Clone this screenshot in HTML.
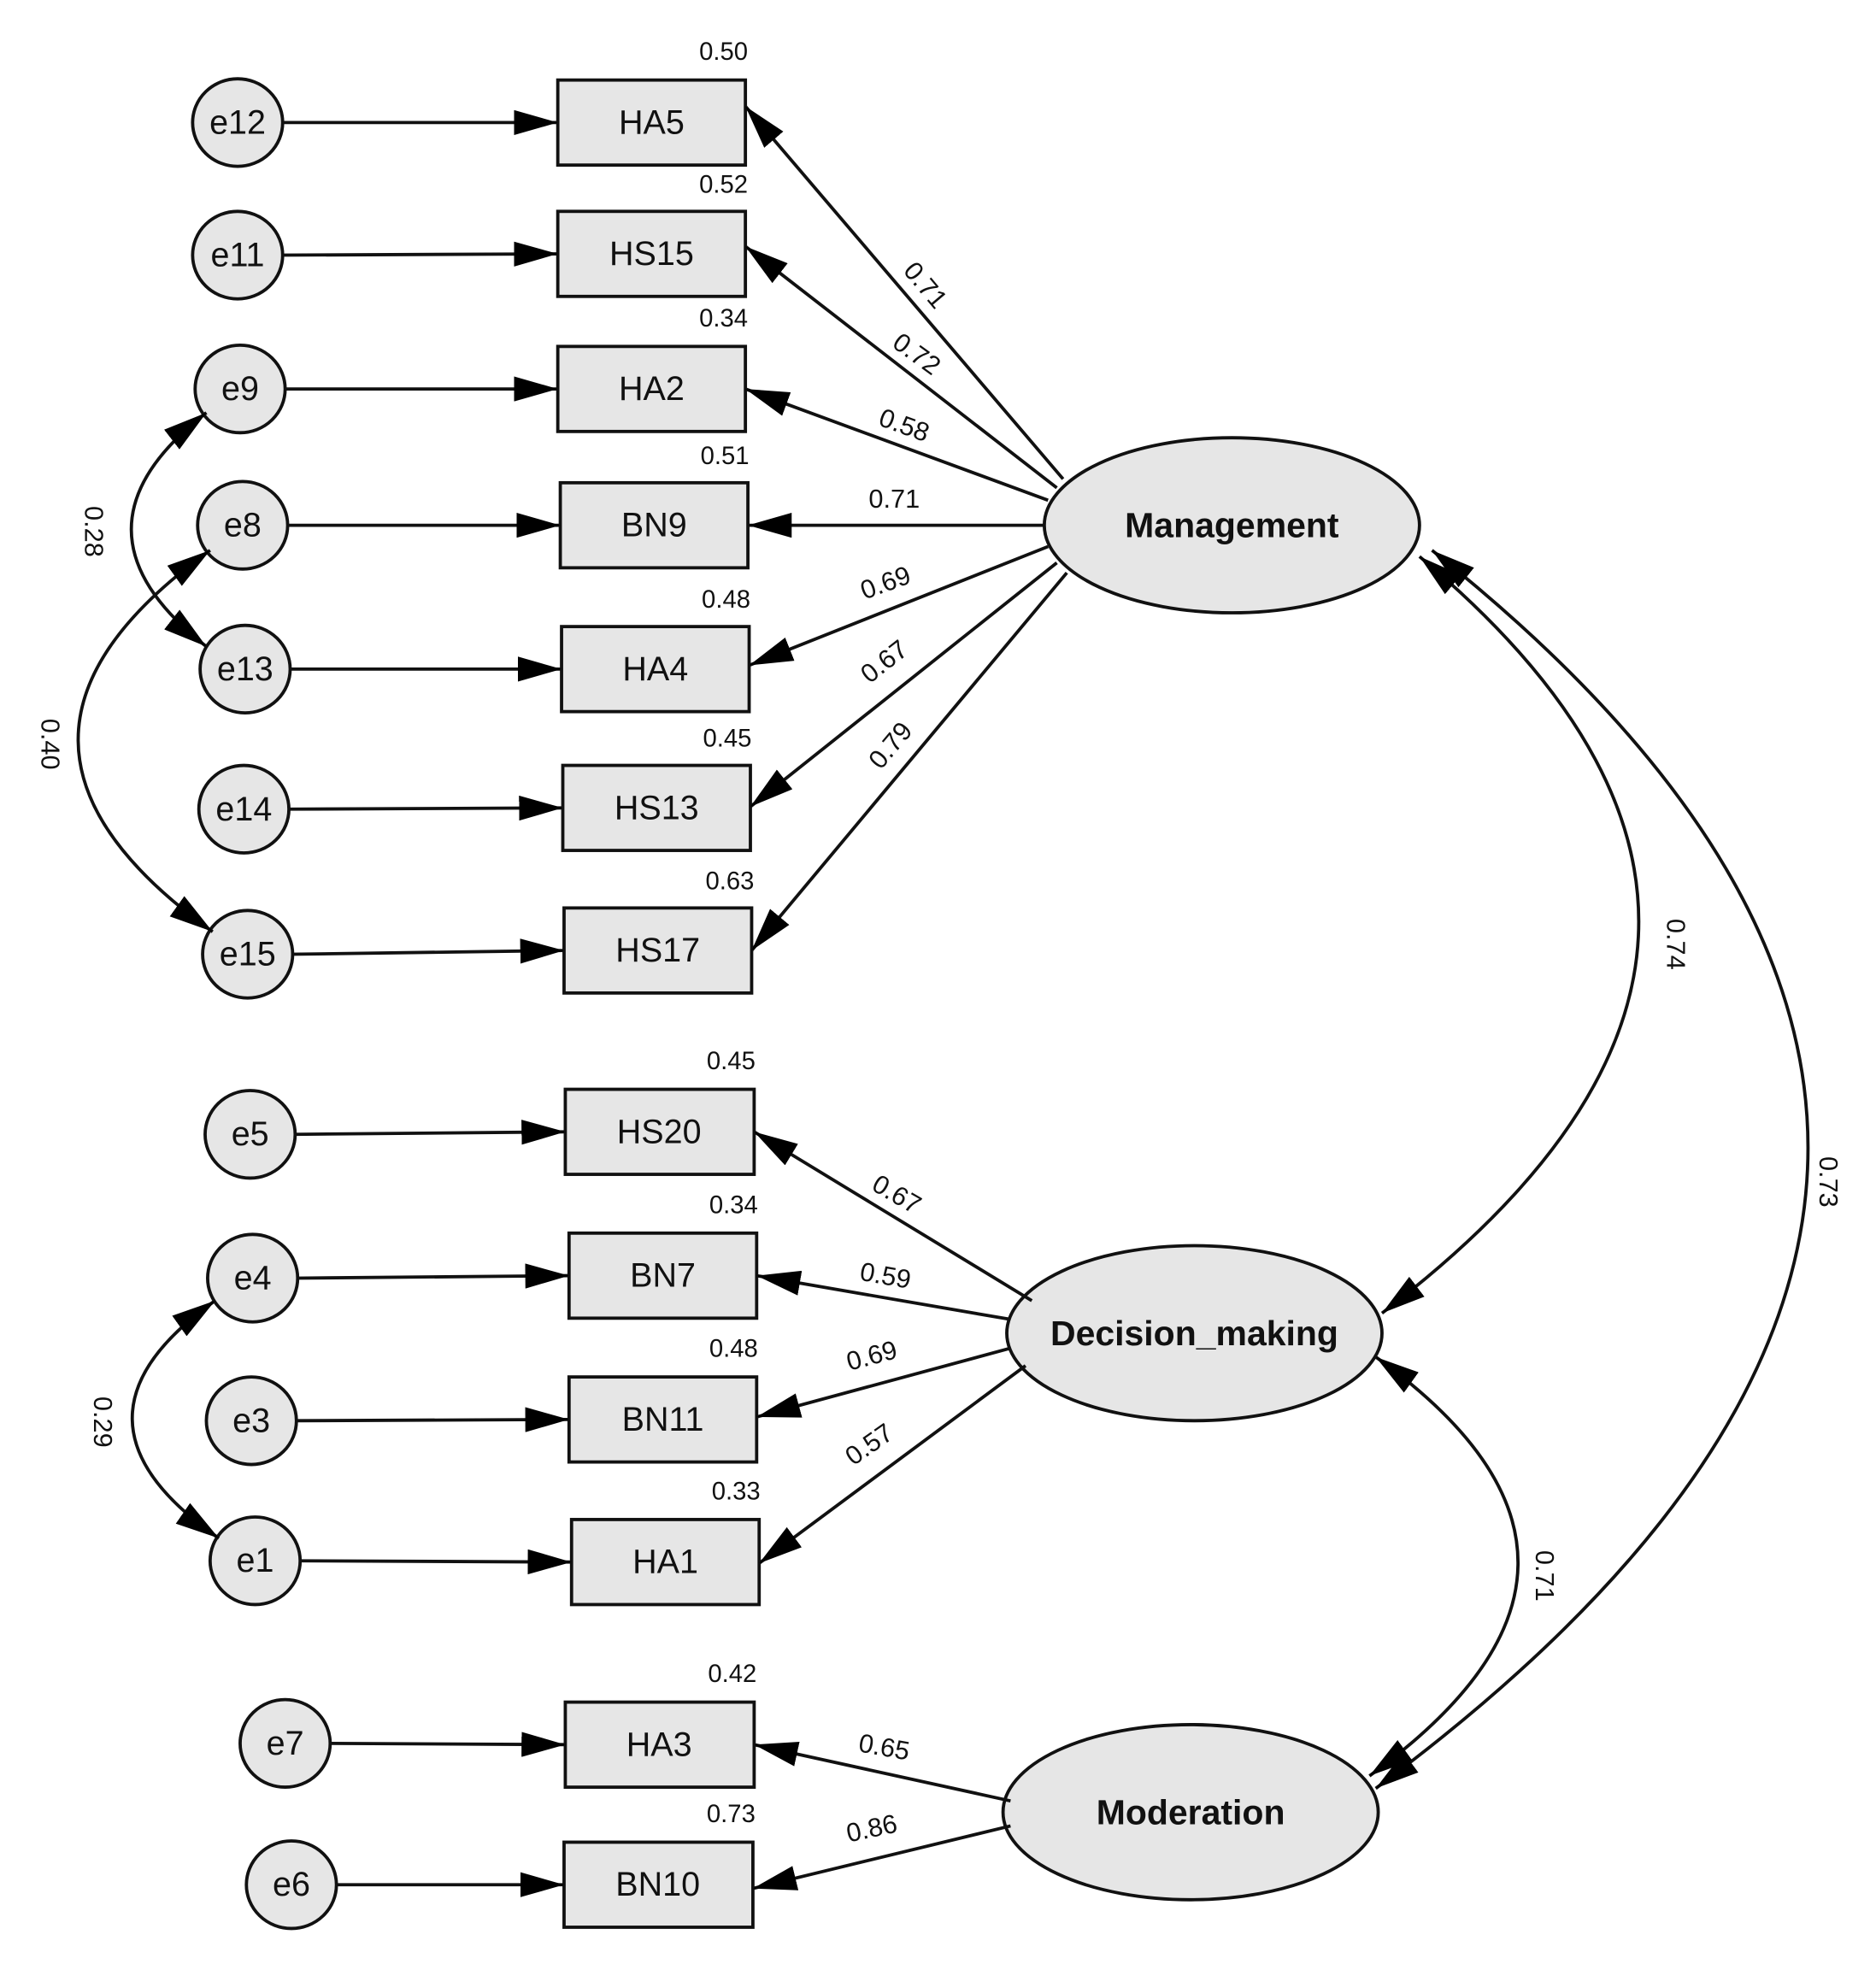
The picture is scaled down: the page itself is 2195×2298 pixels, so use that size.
<!DOCTYPE html>
<html><head><meta charset="utf-8"><style>
html,body{margin:0;padding:0;background:#fff;}
svg{display:block;}
text{font-family:"Liberation Sans",Arial,sans-serif;fill:#111;}
.b{font-size:27px;text-anchor:middle;dominant-baseline:central;}
.v{font-size:20px;text-anchor:end;fill:#222;}
.l{font-size:21px;text-anchor:middle;fill:#222;}
.L{font-size:28px;font-weight:bold;text-anchor:middle;dominant-baseline:central;}
</style></head><body>
<svg width="2195" height="2298" viewBox="0 0 1500 1570.4" xmlns="http://www.w3.org/2000/svg">
<defs>
<marker id="a" markerUnits="userSpaceOnUse" markerWidth="36" markerHeight="20" refX="35" refY="10" orient="auto-start-reverse"><path d="M0,0 L35,10 L0,20 Z" fill="#000"/></marker>
</defs>
<g stroke="#111" stroke-width="2.6" fill="#e6e6e6">
<!-- error circles -->
<ellipse cx="190" cy="98" rx="36" ry="35"/><ellipse cx="190" cy="204" rx="36" ry="35"/>
<ellipse cx="192" cy="311" rx="36" ry="35"/><ellipse cx="194" cy="420" rx="36" ry="35"/>
<ellipse cx="196" cy="535" rx="36" ry="35"/><ellipse cx="195" cy="647" rx="36" ry="35"/>
<ellipse cx="198" cy="763" rx="36" ry="35"/><ellipse cx="200" cy="907" rx="36" ry="35"/>
<ellipse cx="202" cy="1022" rx="36" ry="35"/><ellipse cx="201" cy="1136" rx="36" ry="35"/>
<ellipse cx="204" cy="1248" rx="36" ry="35"/><ellipse cx="228" cy="1394" rx="36" ry="35"/>
<ellipse cx="233" cy="1507" rx="36" ry="35"/>
<!-- boxes -->
<rect x="446" y="64" width="150" height="68"/><rect x="446" y="169" width="150" height="68"/>
<rect x="446" y="277" width="150" height="68"/><rect x="448" y="386" width="150" height="68"/>
<rect x="449" y="501" width="150" height="68"/><rect x="450" y="612" width="150" height="68"/>
<rect x="451" y="726" width="150" height="68"/><rect x="452" y="871" width="151" height="68"/>
<rect x="455" y="986" width="150" height="68"/><rect x="455" y="1101" width="150" height="68"/>
<rect x="457" y="1215" width="150" height="68"/><rect x="452" y="1361" width="151" height="68"/>
<rect x="451" y="1473" width="151" height="68"/>
<!-- latents -->
<ellipse cx="985" cy="420" rx="150" ry="70"/>
<ellipse cx="955" cy="1066" rx="150" ry="70"/>
<ellipse cx="952" cy="1449" rx="150" ry="70"/>
</g>
<g stroke="#111" stroke-width="2.6" fill="none" marker-end="url(#a)">
<line x1="226" y1="98" x2="446" y2="98"/><line x1="226" y1="204" x2="446" y2="203"/>
<line x1="228" y1="311" x2="446" y2="311"/><line x1="230" y1="420" x2="448" y2="420"/>
<line x1="232" y1="535" x2="449" y2="535"/><line x1="231" y1="647" x2="450" y2="646"/>
<line x1="234" y1="763" x2="451" y2="760"/><line x1="236" y1="907" x2="452" y2="905"/>
<line x1="238" y1="1022" x2="455" y2="1020"/><line x1="237" y1="1136" x2="455" y2="1135"/>
<line x1="240" y1="1248" x2="457" y2="1249"/><line x1="264" y1="1394" x2="452" y2="1395"/>
<line x1="269" y1="1507" x2="451" y2="1507"/>
<!-- loadings -->
<line x1="850" y1="383" x2="596" y2="85"/><line x1="845" y1="390" x2="596" y2="197"/>
<line x1="838" y1="400" x2="596" y2="311"/><line x1="835" y1="420" x2="598" y2="420"/>
<line x1="838" y1="437" x2="599" y2="532"/><line x1="845" y1="450" x2="600" y2="645"/>
<line x1="853" y1="458" x2="601" y2="760"/>
<line x1="825" y1="1040" x2="603" y2="905"/><line x1="808" y1="1055" x2="605" y2="1020"/>
<line x1="808" y1="1078" x2="605" y2="1133"/><line x1="820" y1="1092" x2="607" y2="1250"/>
<line x1="808" y1="1440" x2="603" y2="1395"/><line x1="808" y1="1460" x2="602" y2="1510"/>
</g>
<g stroke="#111" stroke-width="2.6" fill="none" marker-start="url(#a)" marker-end="url(#a)">
<path d="M165,330 Q45,423 165,517"/>
<path d="M168,440 Q-44,592 170,745"/>
<path d="M172,1040 Q38,1135 175,1230"/>
<path d="M1135,445 Q1500,750 1105,1050"/>
<path d="M1145,440 Q1768,935 1100,1430"/>
<path d="M1100,1085 Q1330,1250 1095,1420"/>
</g>
<g class="b">
<text x="521" y="98">HA5</text><text x="521" y="203">HS15</text><text x="521" y="311">HA2</text>
<text x="523" y="420">BN9</text><text x="524" y="535">HA4</text><text x="525" y="646">HS13</text>
<text x="526" y="760">HS17</text><text x="527" y="905">HS20</text><text x="530" y="1020">BN7</text>
<text x="530" y="1135">BN11</text><text x="532" y="1249">HA1</text><text x="527" y="1395">HA3</text>
<text x="526" y="1507">BN10</text>
<text x="190" y="98">e12</text><text x="190" y="204">e11</text><text x="192" y="311">e9</text>
<text x="194" y="420">e8</text><text x="196" y="535">e13</text><text x="195" y="647">e14</text>
<text x="198" y="763">e15</text><text x="200" y="907">e5</text><text x="202" y="1022">e4</text>
<text x="201" y="1136">e3</text><text x="204" y="1248">e1</text><text x="228" y="1394">e7</text>
<text x="233" y="1507">e6</text>
</g>
<g class="v">
<text x="598" y="48">0.50</text><text x="598" y="154">0.52</text><text x="598" y="261">0.34</text>
<text x="599" y="371">0.51</text><text x="600" y="486">0.48</text><text x="601" y="597">0.45</text>
<text x="603" y="711">0.63</text><text x="604" y="855">0.45</text><text x="606" y="970">0.34</text>
<text x="606" y="1085">0.48</text><text x="608" y="1199">0.33</text><text x="605" y="1345">0.42</text>
<text x="604" y="1457">0.73</text>
</g>
<g class="L">
<text x="985" y="420">Management</text>
<text x="955" y="1066">Decision_making</text>
<text x="952" y="1449">Moderation</text>
</g>
<g class="l">
<text transform="translate(740,228) rotate(50)" dy="7">0.71</text>
<text transform="translate(733,283) rotate(36)" dy="7">0.72</text>
<text transform="translate(723,340) rotate(20)" dy="7">0.58</text>
<text transform="translate(715,399)" dy="7">0.71</text>
<text transform="translate(708,466) rotate(-20)" dy="7">0.69</text>
<text transform="translate(707,529) rotate(-38)" dy="7">0.67</text>
<text transform="translate(712,596) rotate(-50)" dy="7">0.79</text>
<text transform="translate(717,955) rotate(30)" dy="7">0.67</text>
<text transform="translate(708,1020) rotate(10)" dy="7">0.59</text>
<text transform="translate(697,1084) rotate(-15)" dy="7">0.69</text>
<text transform="translate(695,1155) rotate(-35)" dy="7">0.57</text>
<text transform="translate(707,1397) rotate(10)" dy="7">0.65</text>
<text transform="translate(697,1462) rotate(-12)" dy="7">0.86</text>
<text transform="translate(75,425) rotate(90)" dy="7">0.28</text>
<text transform="translate(40,595) rotate(90)" dy="7">0.40</text>
<text transform="translate(82,1137) rotate(90)" dy="7">0.29</text>
<text transform="translate(1340,755) rotate(90)" dy="7">0.74</text>
<text transform="translate(1462,945) rotate(90)" dy="7">0.73</text>
<text transform="translate(1235,1260) rotate(90)" dy="7">0.71</text>
</g>
</svg>
</body></html>
